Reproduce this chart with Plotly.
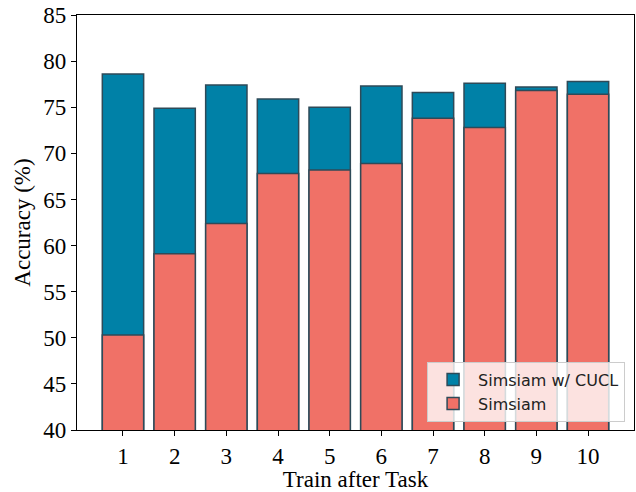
import plotly.graph_objects as go

tasks = [1, 2, 3, 4, 5, 6, 7, 8, 9, 10]
cucl = [78.6, 74.9, 77.4, 75.9, 75.0, 77.3, 76.6, 77.6, 77.2, 77.8]
simsiam = [50.3, 59.1, 62.4, 67.8, 68.2, 68.9, 73.8, 72.8, 76.8, 76.4]

edge = "#2e4a58"
fig = go.Figure()
fig.add_trace(go.Bar(x=tasks, y=cucl, name="Simsiam w/ CUCL", width=0.8,
                     marker=dict(color="#0081A7", line=dict(color=edge, width=1.5))))
fig.add_trace(go.Bar(x=tasks, y=simsiam, name="Simsiam", width=0.8,
                     marker=dict(color="#F07167", line=dict(color=edge, width=1.5))))

axis_font = dict(family="Liberation Serif, Times New Roman, serif", size=23, color="black")
fig.update_layout(
    width=636, height=492,
    margin=dict(l=77, r=2, t=15, b=62),
    barmode="overlay",
    plot_bgcolor="white", paper_bgcolor="white",
    font=axis_font,
    legend=dict(x=0.984, y=0.02, xanchor="right", yanchor="bottom",
                bgcolor="rgba(255,255,255,0.8)", bordercolor="#cccccc", borderwidth=1,
                font=dict(family="DejaVu Sans, sans-serif", size=16, color="#222"),
                itemwidth=40, traceorder="normal"),
    xaxis=dict(range=[0.11, 10.89], tickmode="array", tickvals=tasks,
               ticktext=[str(t) for t in tasks], automargin=False,
               showline=True, linecolor="black", linewidth=1.2, mirror=True,
               ticks="outside", ticklen=5, tickcolor="black", showgrid=False,
               title=dict(text="Train after Task", font=axis_font, standoff=0),
               tickfont=axis_font),
    yaxis=dict(range=[40, 85], dtick=5, showline=True, linecolor="black", linewidth=1.2,
               mirror=True, ticks="outside", ticklen=5, tickcolor="black", showgrid=False,
               automargin=False,
               title=dict(text="Accuracy (%)", font=axis_font, standoff=6),
               tickfont=axis_font),
)
fig.write_html("out.html", config={"displayModeBar": False},
               post_script="document.body.style.margin='0';")
